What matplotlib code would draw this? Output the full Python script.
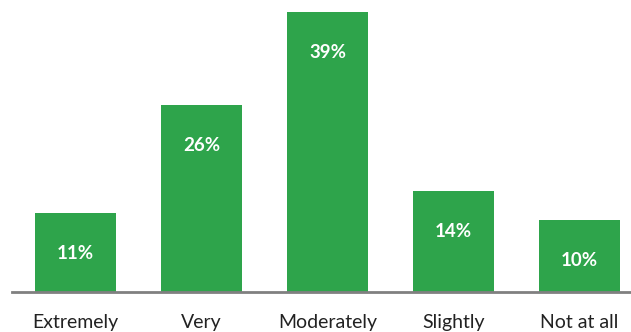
import matplotlib.pyplot as plt

categories = ["Extremely", "Very", "Moderately", "Slightly", "Not at all"]
values = [11, 26, 39, 14, 10]

fig = plt.figure(figsize=(6.31, 3.32), dpi=100)
ax = fig.add_axes([12 / 631, 40 / 332, 619 / 631, 292 / 332])

x = list(range(len(categories)))
bars = ax.bar(x, values, width=0.643, color="#2ea44b")

for b, v in zip(bars, values):
    ax.annotate(f"{v}%", (b.get_x() + b.get_width() / 2, v),
                xytext=(0, -29), textcoords="offset points",
                ha="center", va="center", color="white",
                fontsize=13.5, fontweight="bold", family="Lato")

ax.set_xlim(-0.504, 4.409)
ax.set_ylim(0, 40.67)
ax.set_yticks([])
ax.set_xticks(x)
ax.set_xticklabels(categories, fontsize=14, family="Lato", color="#222222")
ax.tick_params(axis="x", length=0, pad=16)
for s in ["top", "right", "left"]:
    ax.spines[s].set_visible(False)
ax.spines["bottom"].set_color("#808080")
ax.spines["bottom"].set_linewidth(2)

fig.savefig("out.png", dpi=100)
